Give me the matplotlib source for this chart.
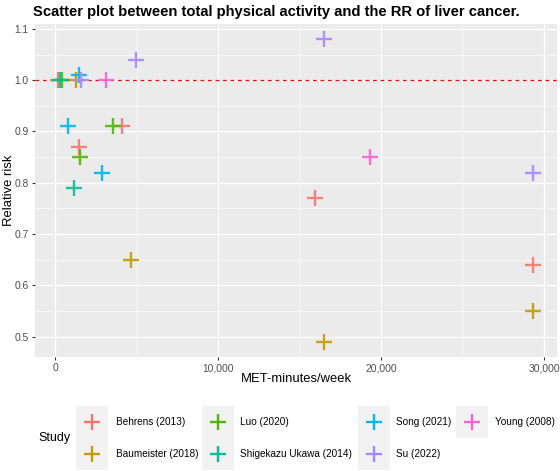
import matplotlib.pyplot as plt
from matplotlib.lines import Line2D
from matplotlib.patches import Rectangle
from matplotlib.ticker import FuncFormatter, MultipleLocator

plt.rcParams['font.family'] = ['Liberation Sans', 'DejaVu Sans']

# studies and their colours (ggplot default hue palette)
studies = ['Behrens (2013)', 'Baumeister (2018)', 'Luo (2020)', 'Shigekazu Ukawa (2014)',
           'Song (2021)', 'Su (2022)', 'Young (2008)']
colors = ['#F8766D', '#C49A00', '#53B400', '#00C094', '#00B6EB', '#A58AFF', '#FB61D7']

# MET-minutes/week and relative risk per study
behrens_x = [180, 1470, 4080, 15950, 29300]
behrens_rr = [1.00, 0.87, 0.91, 0.77, 0.64]
baumeister_x = [1290, 4670, 16500, 29300]
baumeister_rr = [1.00, 0.65, 0.49, 0.55]
luo_x = [430, 1530, 3570]
luo_rr = [1.00, 0.85, 0.91]
ukawa_x = [300, 1180]
ukawa_rr = [1.00, 0.79]
song_x = [1490, 815, 2900]
song_rr = [1.01, 0.91, 0.82]
su_x = [1600, 4950, 16500, 29300]
su_rr = [1.00, 1.04, 1.08, 0.82]
young_x = [3100, 19350]
young_rr = [1.00, 0.85]

xs = [behrens_x, baumeister_x, luo_x, ukawa_x, song_x, su_x, young_x]
ys = [behrens_rr, baumeister_rr, luo_rr, ukawa_rr, song_rr, su_rr, young_rr]

W, H = 560, 471
fig = plt.figure(figsize=(W / 100, H / 100), dpi=100)
ax = fig.add_axes([35 / W, 1 - 357 / H, 522 / W, 333 / H])
ax.set_facecolor('#EBEBEB')

ms = 12
mew = 1.7
for name, c, x, y in zip(studies, colors, xs, ys):
    ax.plot(x, y, linestyle='none', marker='+', ms=ms, mew=mew, color=c, alpha=0.9, zorder=3)

ax.axhline(1.0, color='red', linestyle=(0, (3, 3)), lw=0.9, zorder=2.5)

ax.set_xlim(-1230, 30800)
ax.set_ylim(0.4605, 1.1095)
ax.xaxis.set_major_locator(MultipleLocator(10000))
ax.xaxis.set_minor_locator(MultipleLocator(5000))
ax.yaxis.set_major_locator(MultipleLocator(0.1))
ax.yaxis.set_minor_locator(MultipleLocator(0.05))
ax.xaxis.set_major_formatter(FuncFormatter(lambda v, p: f'{int(v):,}'))
ax.yaxis.set_major_formatter(FuncFormatter(lambda v, p: f'{v:.1f}'))

ax.grid(which='major', color='white', lw=0.9)
ax.grid(which='minor', color='white', lw=0.45)
ax.set_axisbelow(True)
for s in ax.spines.values():
    s.set_visible(False)
ax.tick_params(which='major', length=2.5, width=0.8, color='#333333',
               labelsize=7.4, labelcolor='#4D4D4D', pad=2)
ax.tick_params(which='minor', length=0)

ax.set_xlabel('MET-minutes/week', fontsize=9.4, labelpad=0)
ax.set_ylabel('Relative risk', fontsize=9.4)
ax.yaxis.set_label_coords((15 - 35) / 522, 0.5)

fig.text(0.494, 1 - 12 / H, 'Scatter plot between total physical activity and the RR of liver cancer.',
         ha='center', va='center', fontsize=10.6, fontweight='bold')

# legend drawn by hand: grey key boxes, column-major like ggplot
key_left = [76, 202, 357.5, 456]
text_left = [115.5, 240.5, 395.5, 495]
row_top = [406, 438]
key = 32
for i, (name, c) in enumerate(zip(studies, colors)):
    col, row = divmod(i, 2)
    x0, y0 = key_left[col], row_top[row]
    fig.add_artist(Rectangle((x0 / W, 1 - (y0 + key) / H), key / W, key / H,
                             transform=fig.transFigure, facecolor='#F2F2F2', edgecolor='none'))
    cx, cy = (x0 + key / 2) / W, 1 - (y0 + key / 2) / H
    fig.add_artist(Line2D([cx], [cy], transform=fig.transFigure, linestyle='none',
                          marker='+', ms=ms, mew=mew, color=c))
    fig.text(text_left[col] / W, cy, name, ha='left', va='center', fontsize=7.2)
fig.text(38 / W, 1 - 438 / H, 'Study', ha='left', va='center', fontsize=9)

fig.savefig('out.png', dpi=100)
